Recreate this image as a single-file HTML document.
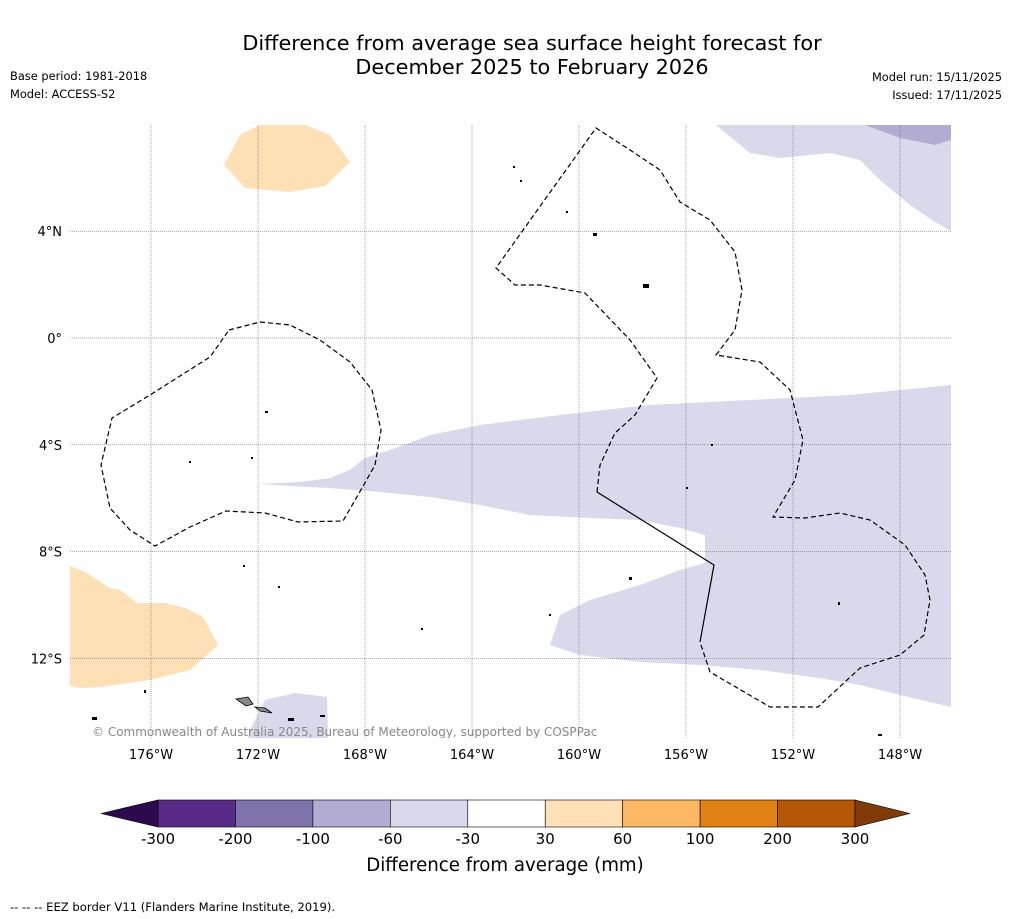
<!DOCTYPE html>
<html><head><meta charset="utf-8"><style>
body{margin:0;background:#fefefe;width:1011px;height:919px;overflow:hidden;font-family:"Liberation Sans","DejaVu Sans",sans-serif}
svg{display:block}
</style></head><body>
<svg width="1011" height="919" id="fig" font-family="'DejaVu Sans','Liberation Sans',sans-serif">
<text x="532" y="50" font-size="20.8" text-anchor="middle">Difference from average sea surface height forecast for</text>
<text x="532" y="74" font-size="20.8" text-anchor="middle">December 2025 to February 2026</text>
<text x="10" y="80" font-size="11.4">Base period: 1981-2018</text>
<text x="10" y="98" font-size="11.4">Model: ACCESS-S2</text>
<text x="1002" y="81" font-size="11.4" text-anchor="end">Model run: 15/11/2025</text>
<text x="1002" y="99" font-size="11.4" text-anchor="end">Issued: 17/11/2025</text>
<defs><clipPath id="mc"><rect x="70" y="125" width="881" height="613"/></clipPath></defs>
<g clip-path="url(#mc)">
<path fill="#d8daeb" d="M258,484 L300,482 330,478 350,470 365,458 390,450 430,435 480,425 560,415 650,405 750,400 850,395 951,385 951,707 900,695 860,685 820,678 760,670 700,665 640,662 580,655 550,645 560,615 590,600 640,585 680,570 705,563 705,535 680,528 640,520 590,518 530,515 480,505 430,497 380,492 330,488 290,486Z"/>
<path fill="#d8daeb" d="M716,125 L750,153 780,158 830,153 860,160 880,180 910,205 935,222 951,231 951,125Z"/>
<path fill="#b2abd2" d="M865,125 L900,138 935,145 951,140 951,125Z"/>
<path fill="#d8daeb" d="M250,730 L265,700 295,693 327,697 328,738 248,738Z"/>
<path fill="#fee0b6" d="M224,165 L240,135 260,125 305,125 330,135 350,162 325,186 290,192 245,188Z"/>
<path fill="#fee0b6" d="M70,566 L85,572 110,588 120,590 137,603 165,603 185,608 203,617 218,645 190,670 150,680 100,687 80,688 70,686Z"/>
<g id="grid"></g>
<path fill="none" stroke="#000" stroke-width="1.2" stroke-dasharray="5,3" d="M229,330 L260,322 290,325 320,340 350,362 372,390 381,430 375,465 362,488 343,521 298,522 265,513 226,511 190,527 155,546 130,530 110,508 101,465 112,418 150,395 210,357Z"/>
<path fill="none" stroke="#000" stroke-width="1.2" stroke-dasharray="5,3" d="M597,492 L600,465 615,433 635,415 657,378 630,340 585,293 540,285 515,285 496,268 596,128 630,150 660,170 680,202 710,220 735,252 742,290 735,330 716,355 760,362 790,390 803,440 795,480 773,517 805,518 840,513 870,520 905,545 925,575 930,600 924,635 900,655 860,668 818,707 770,707 710,672 700,642"/>
<path fill="none" stroke="#000" stroke-width="1.2" d="M597,492 L714,565 700,642"/>
<g fill="#000">
<rect x="265" y="411" width="3" height="2"/><rect x="251" y="457" width="2" height="2"/><rect x="189" y="461" width="2" height="2"/>
<rect x="593" y="233" width="4" height="3"/><rect x="643" y="284" width="6" height="4"/><rect x="513" y="166" width="2" height="2"/>
<rect x="520" y="180" width="2" height="2"/><rect x="566" y="211" width="2" height="2"/><rect x="711" y="444" width="2" height="2"/>
<rect x="686" y="487" width="2" height="2"/><rect x="629" y="577" width="3" height="3"/><rect x="549" y="614" width="2" height="2"/>
<rect x="421" y="628" width="2" height="2"/><rect x="144" y="690" width="2" height="3"/><rect x="92" y="717" width="5" height="3"/>
<rect x="288" y="718" width="6" height="3"/><rect x="320" y="715" width="5" height="2"/><rect x="838" y="602" width="2" height="3"/>
<rect x="878" y="734" width="4" height="2"/><rect x="243" y="565" width="2" height="2"/><rect x="278" y="586" width="2" height="2"/>
</g>
<path fill="#888" stroke="#000" stroke-width="0.8" d="M236,699 L248,697 253,704 246,706Z M255,707 L265,708 272,713 260,711Z"/>
<text x="92" y="736" font-size="12" fill="#888">© Commonwealth of Australia 2025, Bureau of Meteorology, supported by COSPPac</text>
</g>
<g id="axes"></g>
<g id="cbar"></g>
<text x="505" y="871" font-size="18.2" text-anchor="middle">Difference from average (mm)</text>
<text x="10" y="911" font-size="11.6">--  --  -- EEZ border V11 (Flanders Marine Institute, 2019).</text>
</svg>
<script>
const lonTicks=[-176,-172,-168,-164,-160,-156,-152,-148];
const latTicks=[4,0,-4,-8,-12];
const cbLevels=[-300,-200,-100,-60,-30,30,60,100,200,300];
const cbColors=["#582b87","#8073ac","#b2abd2","#d8daeb","#ffffff","#fee0b6","#fdb863","#e08214","#b35806"];
const cbLow="#2d0a4e", cbHigh="#7f3b08";
const NS="http://www.w3.org/2000/svg";
const xLon=l=>151+(l+176)*26.75;
const yLat=l=>338-l*26.7;
function mk(t,a,p){const e=document.createElementNS(NS,t);for(const k in a)e.setAttribute(k,a[k]);p.appendChild(e);return e;}
const grid=document.getElementById('grid'),axes=document.getElementById('axes'),cb=document.getElementById('cbar');
lonTicks.forEach(l=>{const x=xLon(l);
 const g=mk('line',{x1:x,x2:x,y1:125,y2:738,stroke:'#555','stroke-width':0.5,'stroke-dasharray':'1,1'},grid);
 
 
 const t=mk('text',{x:x,y:759,'font-size':13,'text-anchor':'middle'},axes);t.textContent=Math.abs(l)+'°W';
 
 });
latTicks.forEach(l=>{const y=yLat(l);
 const g=mk('line',{x1:70,x2:951,y1:y,y2:y,stroke:'#555','stroke-width':0.5,'stroke-dasharray':'1,1'},grid);
 
 
 const t=mk('text',{x:62,y:y+5,'font-size':13,'text-anchor':'end'},axes);t.textContent=l===0?'0°':Math.abs(l)+'°'+(l>0?'N':'S');
 
 });
const cx0=158,cx1=855,cy=800,ch=27,n=cbLevels.length-1,w=(cx1-cx0)/n;
cbColors.forEach((c,i)=>{const r=mk('rect',{x:cx0+i*w,y:cy,width:w,height:ch,fill:c,stroke:'#000','stroke-width':0.6},cb);
 
 });
const lo=mk('polygon',{points:`${cx0},${cy} ${cx0},${cy+ch} 101,${cy+ch/2}`,fill:cbLow,stroke:'#000','stroke-width':0.6},cb);


const hi=mk('polygon',{points:`${cx1},${cy} ${cx1},${cy+ch} 910,${cy+ch/2}`,fill:cbHigh,stroke:'#000','stroke-width':0.6},cb);


cbLevels.forEach((v,i)=>{const t=mk('text',{x:cx0+i*w,y:844,'font-size':15,'text-anchor':'middle'},cb);t.textContent=v;
 
 });
</script>
</body></html>
